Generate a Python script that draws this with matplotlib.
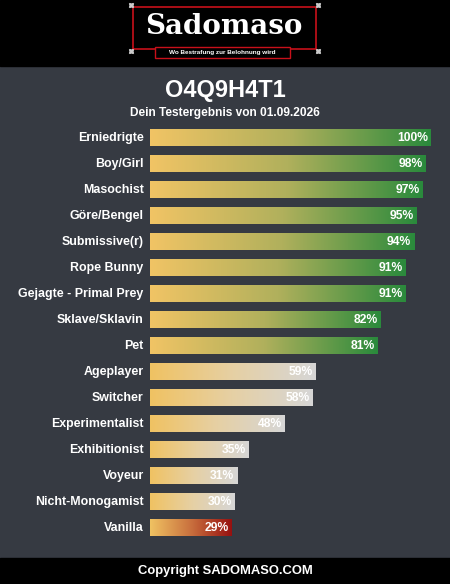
import matplotlib
matplotlib.use('Agg')
import matplotlib.pyplot as plt
from matplotlib.colors import LinearSegmentedColormap
from matplotlib.patches import Rectangle
import numpy as np

# data
categories = ["Erniedrigte", "Boy/Girl", "Masochist", "Göre/Bengel", "Submissive(r)",
              "Rope Bunny", "Gejagte - Primal Prey", "Sklave/Sklavin", "Pet",
              "Ageplayer", "Switcher", "Experimentalist", "Exhibitionist", "Voyeur",
              "Nicht-Monogamist", "Vanilla"]
values = [100, 98, 97, 95, 94, 91, 91, 82, 81, 59, 58, 48, 35, 31, 30, 29]
# which colour ramp each bar uses
groups = ["green"] * 9 + ["grey"] * 6 + ["red"]

title = "O4Q9H4T1"
subtitle = "Dein Testergebnis von 01.09.2026"
footer = "Copyright SADOMASO.COM"

plt.rcParams['font.family'] = ['Liberation Sans', 'DejaVu Sans']

W, H = 450, 584
bg = '#363a42'
ramps = {
    "green": LinearSegmentedColormap.from_list("g", ['#f1c465', '#b0b05c', '#2a8a3c']),
    "grey": LinearSegmentedColormap.from_list("w", ['#f0c262', '#e6d0a4', '#d6d6d6']),
    "red": LinearSegmentedColormap.from_list("r", ['#f0c262', '#c9703e', '#971010']),
}

fig = plt.figure(figsize=(W / 100, H / 100), dpi=100, facecolor=bg)

# pixel overlay for header / footer / titles
deco = fig.add_axes([0, 0, 1, 1])
deco.set_xlim(0, W)
deco.set_ylim(H, 0)
deco.axis('off')
deco.add_patch(Rectangle((0, 0), W, 66, color='black'))
deco.add_patch(Rectangle((0, 558), W, H - 558, color='black'))

# logo
deco.add_patch(Rectangle((133, 7), 183, 42, facecolor='black', edgecolor='#c8101a', lw=1.2))
deco.add_patch(Rectangle((155, 47), 135, 11, facecolor='black', edgecolor='#c8101a', lw=1.0))
deco.text(224, 27, "Sadomaso", color='white', fontsize=20, fontweight='bold',
          family=['DejaVu Serif'], ha='center', va='center')
deco.text(222, 52.5, "Wo Bestrafung zur Belohnung wird", color='white', fontsize=4.6,
          fontweight='bold', ha='center', va='center')
for cx, cy in [(131, 5), (318, 5), (131, 51), (318, 51)]:
    deco.plot(cx, cy, marker=(4, 1, 45), color='#cccccc', ms=4)

deco.text(225, 90, title, color='white', fontsize=17, fontweight='bold',
          ha='center', va='center')
deco.text(225, 113, subtitle, color='white', fontsize=8.6, fontweight='bold',
          ha='center', va='center')
deco.text(225, 571, footer, color='white', fontsize=9.4, fontweight='bold',
          ha='center', va='center')

# bar axes: row i centred at 138 + 26*i px, 100% ends at x=431 px
n = len(categories)
top_px, bot_px = 125, 125 + 26 * n
ax = fig.add_axes([150 / W, (H - bot_px) / H, 281 / W, (bot_px - top_px) / H])
ax.patch.set_alpha(0)
ax.axis('off')

h = 0.65
grad = np.linspace(0, 1, 256).reshape(1, -1)
for i, (name, v, g) in enumerate(zip(categories, values, groups)):
    ax.imshow(grad, cmap=ramps[g], aspect='auto', interpolation='bilinear',
              extent=[0, v, i + h / 2, i - h / 2])
    ax.annotate(f"{v}%", (v, i), xytext=(-2, 0), textcoords='offset points',
                ha='right', va='center', color='white', fontsize=8.7, fontweight='bold')
    ax.annotate(name, (0, i), xytext=(-4.5, 0), textcoords='offset points',
                ha='right', va='center', color='white', fontsize=8.9, fontweight='bold',
                annotation_clip=False)

ax.set_xlim(0, 100)
ax.set_ylim(n - 0.5, -0.5)

fig.savefig('out.png', dpi=100, facecolor=bg)
